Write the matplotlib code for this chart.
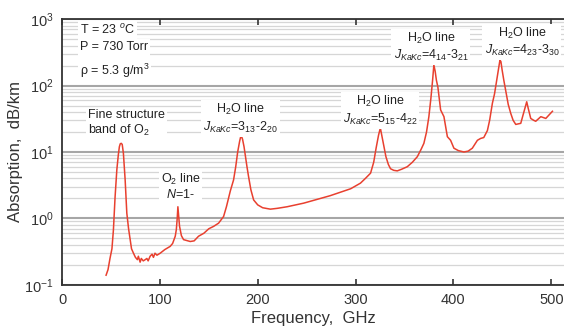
import matplotlib
matplotlib.use("Agg")
import matplotlib.pyplot as plt
from matplotlib.ticker import LogLocator, NullFormatter

plt.rcParams['font.family'] = ['Liberation Sans', 'DejaVu Sans']
plt.rcParams['mathtext.fontset'] = 'custom'
plt.rcParams['mathtext.rm'] = 'Liberation Sans'
plt.rcParams['mathtext.it'] = 'Liberation Sans:italic'

freq_ghz = [45, 47, 49, 51, 52.5, 54.2, 56, 57.5, 58.6, 59.5, 60.5, 61.5, 62.7, 63.6, 64.5, 65.4, 66.2, 68, 69.6,
            71, 73, 75, 77, 78, 79.8, 81, 83, 85, 86.7, 88, 90, 92, 93.4, 95, 97, 100.3,
            105, 110.5, 113, 115.7, 116.8, 117.7, 118.4, 119.1, 120.1, 122, 124.2, 131, 135, 139.5,
            145, 150, 154.9, 160, 165.1, 168, 172, 175.3, 177.5, 179.5, 181.5, 183, 184.5, 186,
            187.5, 189, 190.7, 193, 195.8, 200, 205, 212.9, 220, 230, 247, 264, 274, 285, 295, 305, 310,
            315.3, 318.5, 321, 323.5, 325.3, 327, 328.9, 331, 333.5, 335.7, 339, 342.6, 347, 352.8, 358, 363.1,
            367, 369.8, 372.5, 374.9, 377, 378.7, 380, 381.3, 382.6, 384.1, 386.9, 390.3, 393.8, 397.1, 400.5, 405, 410.7,
            415, 419.3, 424.5, 427.8, 431, 434.7, 437, 439.8, 442, 444, 446, 447.5, 448.5, 449.8, 451.5, 453.4,
            456, 458.6, 461, 463.7, 468.8, 472, 474.9, 476.5, 479, 482, 484.1, 489.3, 494.4, 501.2]
absorption_db_km = [0.14, 0.17, 0.25, 0.35, 0.67, 2.1, 5.4, 9.0, 12.0, 13.3, 13.5, 13.0, 9.6, 6.2, 3.8, 2.0, 1.2, 0.7, 0.48,
                    0.35, 0.30, 0.26, 0.24, 0.27, 0.22, 0.25, 0.23, 0.24, 0.25, 0.23, 0.27, 0.29, 0.26, 0.30, 0.28, 0.30,
                    0.34, 0.38, 0.42, 0.54, 0.68, 1.0, 1.5, 1.15, 0.76, 0.55, 0.48, 0.45, 0.46, 0.54,
                    0.60, 0.70, 0.76, 0.85, 1.07, 1.5, 2.6, 3.8, 6.0, 10.0, 14.5, 18.0, 15.5, 12.0,
                    8.5, 6.0, 4.2, 2.7, 1.9, 1.6, 1.45, 1.38, 1.42, 1.5, 1.7, 2.0, 2.2, 2.5, 2.8, 3.4, 4.0,
                    4.8, 7.0, 11.5, 18.0, 23.0, 17.0, 12.0, 8.5, 6.5, 5.6, 5.3, 5.2, 5.5, 6.0, 7.0, 8.5,
                    11.0, 13.5, 20.0, 34.0, 65.0, 120.0, 204.0, 165.0, 120.0, 95.0, 43.0, 34.0, 17.0, 15.0, 11.4, 10.5, 10.0,
                    10.3, 11.4, 15.0, 16.0, 16.5, 21.0, 30.0, 54.0, 75.0, 115.0, 180.0, 240.0, 230.0, 170.0, 120.0, 85.0,
                    52.0, 38.0, 30.0, 26.0, 27.0, 40.0, 57.0, 45.0, 32.0, 30.0, 29.0, 34.0, 32.0, 41.0]

x_ticks = [0, 100, 200, 300, 400, 500]

fig = plt.figure(figsize=(5.64, 3.29), dpi=100)
ax = fig.add_axes([0.11, 0.134, 0.89, 0.808])

ax.plot(freq_ghz, absorption_db_km, color='#e8402f', lw=1.1, zorder=3)
ax.set_yscale('log')
ax.set_ylim(0.1, 1000)
ax.set_xlim(0, 513)

ax.yaxis.set_major_locator(LogLocator(base=10, numticks=10))
ax.yaxis.set_minor_locator(LogLocator(base=10, subs=range(2, 10), numticks=10))
ax.yaxis.set_minor_formatter(NullFormatter())
ax.grid(True, which='major', axis='y', color='#a6a6a6', lw=1.5, zorder=0)
ax.grid(True, which='minor', axis='y', color='#d6d6d6', lw=0.9, zorder=0)
ax.yaxis.set_zorder(0.5)
ax.xaxis.set_zorder(2.6)

ax.set_xticks(x_ticks)
ax.tick_params(axis='x', which='major', direction='in', top=True, bottom=True,
               length=4, width=1.2, labelsize=10.5, pad=6, colors='#333333')
ax.tick_params(axis='y', which='both', length=0, labelsize=10.5, pad=6, colors='#333333')

for s in ['left', 'bottom', 'top']:
    ax.spines[s].set_color('#333333')
    ax.spines[s].set_linewidth(1.3)
ax.spines['right'].set_visible(False)

ax.set_xlabel('Frequency,  GHz', fontsize=12, color='#333333', labelpad=3)
ax.set_ylabel('Absorption,  dB/km', fontsize=12, color='#333333')
ax.yaxis.set_label_coords(-0.078, 0.5)

bbox = dict(facecolor='white', edgecolor='none', pad=1.5)
fs = 9
tc = '#222222'
ax.text(18, 680, 'T = 23 $^{o}$C', fontsize=fs, color=tc, bbox=bbox, va='center')
ax.text(18, 375, 'P = 730 Torr', fontsize=fs, color=tc, bbox=bbox, va='center')
ax.text(18, 168, '\u03c1 = 5.3 g/m$^{3}$', fontsize=fs, color=tc, bbox=bbox, va='center')

ax.text(27, 27, 'Fine structure\nband of O$_2$', fontsize=fs, color=tc,
        bbox=bbox, va='center', ha='left', linespacing=1.2)
ax.text(121, 3.0, 'O$_2$ line\n$N$=1-', fontsize=fs, color=tc,
        bbox=bbox, va='center', ha='center', linespacing=1.1)
ax.text(182, 32, 'H$_2$O line\n$J_{KaKc}$=3$_{13}$-2$_{20}$', fontsize=fs, color=tc,
        bbox=bbox, va='center', ha='center', linespacing=1.2)
ax.text(325, 42, 'H$_2$O line\n$J_{KaKc}$=5$_{15}$-4$_{22}$', fontsize=fs, color=tc,
        bbox=bbox, va='center', ha='center', linespacing=1.2)
ax.text(377, 380, 'H$_2$O line\n$J_{KaKc}$=4$_{14}$-3$_{21}$', fontsize=fs, color=tc,
        bbox=bbox, va='center', ha='center', linespacing=1.2)
ax.text(470, 450, 'H$_2$O line\n$J_{KaKc}$=4$_{23}$-3$_{30}$', fontsize=fs, color=tc,
        bbox=bbox, va='center', ha='center', linespacing=1.2)

fig.savefig('out.png', dpi=100)
